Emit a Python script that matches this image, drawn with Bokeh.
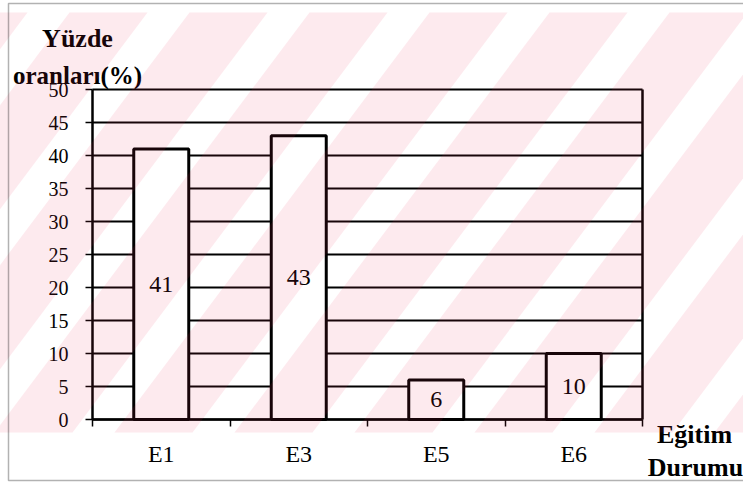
from bokeh.plotting import figure
from bokeh.models import (FixedTicker, Label, BoxAnnotation,
                          ColumnDataSource, Range1d)
from bokeh.core.properties import value
from bokeh.embed import file_html
from bokeh.resources import INLINE

# ---- data ----
categories = ["E1", "E3", "E5", "E6"]
values = [41, 43, 6, 10]
y_ticks = [0, 5, 10, 15, 20, 25, 30, 35, 40, 45, 50]
title_lines = ["Yüzde", "oranları(%)"]
x_title_lines = ["Eğitim", "Durumu"]

# ---- layout constants (pixels) ----
W, H = 743, 483
FR_L, FR_R, FR_T, FR_B = 5, W, 1, 482                # drawing frame
BOX_L, BOX_T, BOX_B = 8, 3, 480                      # outer border (open at right)
PA_L, PA_R, PA_T, PA_B = 92, 642, 89, 419            # plot area
FONT = "Liberation Serif"
BAR_W = 0.4

n = len(categories)
ymax = y_ticks[-1]
xppu = (PA_R - PA_L) / n
yppu = (PA_B - PA_T) / ymax
x_start = -(PA_L - FR_L) / xppu
x_end = n + (FR_R - PA_R) / xppu
y_start = -(FR_B - PA_B) / yppu
y_end = ymax + (PA_T - FR_T) / yppu

def dx(px):
    return x_start + (px - FR_L) / xppu

def dy(py):
    return y_end - (py - FR_T) / yppu

centers = [i + 0.5 for i in range(n)]
bounds = [float(i) for i in range(n + 1)]

src = ColumnDataSource(dict(
    x=centers, top=values, mid=[v / 2 for v in values],
    lbl=[str(v) for v in values]))

p = figure(width=W, height=H, output_backend="svg", toolbar_location=None,
           x_range=Range1d(x_start, x_end), y_range=Range1d(y_start, y_end),
           min_border_left=FR_L, min_border_right=W - FR_R,
           min_border_top=FR_T, min_border_bottom=H - FR_B)
p.border_fill_color = "white"
p.background_fill_color = "white"
p.outline_line_color = None
p.xgrid.visible = False
p.ygrid.visible = False

# ---- outer border (left, top, bottom) ----
p.add_layout(BoxAnnotation(left=BOX_L, right=W + 10, top=BOX_T, bottom=BOX_B,
                           left_units="canvas", right_units="canvas",
                           top_units="canvas", bottom_units="canvas",
                           fill_alpha=0, line_color="black", line_width=1.5,
                           level="overlay"))

# ---- gridlines and plot-area border ----
p.segment(x0=[0] * len(y_ticks), x1=[n] * len(y_ticks), y0=y_ticks, y1=y_ticks,
          line_color="black", line_width=2)
p.segment(x0=[n], x1=[n], y0=[0], y1=[ymax], line_color="black", line_width=2.5)

# ---- bars ----
p.vbar(x="x", top="top", width=BAR_W, source=src, fill_color="white",
       line_color="black", line_width=3)
p.text(x="x", y="mid", text="lbl", source=src, text_align="center",
       text_baseline="middle", text_font=value(FONT), text_font_size="24px",
       text_color="black")

# ---- watermark: faint translucent pink diagonal bands on top of everything ----
WM_TOP, WM_BOTTOM = 12, 432
ratio = 0.75
sx, sy = [], []
for k in range(-1, 11):
    x0 = 36 + 42 + k * 120
    sx.append([dx(x0 - WM_TOP * ratio), dx(x0 + 78 - WM_TOP * ratio),
               dx(x0 + 78 - WM_BOTTOM * ratio), dx(x0 - WM_BOTTOM * ratio)])
    sy.append([dy(WM_TOP), dy(WM_TOP), dy(WM_BOTTOM), dy(WM_BOTTOM)])
p.patches(xs=sx, ys=sy, fill_color="#eb325a", fill_alpha=0.1, line_color=None,
          level="overlay")

# ---- axes ----
ya = p.yaxis[0]
ya.fixed_location = 0
ya.bounds = (0, ymax)
ya.ticker = FixedTicker(ticks=y_ticks)
ya.major_tick_out = 7
ya.major_tick_in = 0
ya.minor_tick_line_color = None
ya.major_label_standoff = 17
ya.major_label_text_font = FONT
ya.major_label_text_font_size = "20px"
ya.major_label_text_color = "black"
ya.axis_line_width = 2.5
ya.major_tick_line_width = 1.5

xa = p.xaxis[0]
xa.fixed_location = 0
xa.bounds = (0, n)
xa.ticker = FixedTicker(ticks=centers, minor_ticks=bounds)
xa.major_label_overrides = {c: cat for c, cat in zip(centers, categories)}
xa.major_tick_out = 0
xa.major_tick_in = 0
xa.minor_tick_out = 7
xa.minor_tick_in = 0
xa.minor_tick_line_color = "black"
xa.minor_tick_line_width = 1.5
xa.major_label_standoff = 14
xa.major_label_text_font = FONT
xa.major_label_text_font_size = "24px"
xa.major_label_text_color = "black"
xa.axis_line_width = 2.5

# ---- titles ----
def canvas_label(text, x, y_top, size):
    p.add_layout(Label(x=x, y=y_top, x_units="canvas", y_units="canvas",
                       text=text, text_font=FONT, text_font_size=size,
                       text_font_style="bold", text_align="center",
                       text_baseline="alphabetic", text_color="black"))

canvas_label(title_lines[0], 77, 38, "26px")
canvas_label(title_lines[1], 77, 75, "25px")
canvas_label(x_title_lines[0], 694, 434, "26px")
canvas_label(x_title_lines[1], 695, 467, "26px")

open("out.html", "w").write(file_html(p, INLINE))
